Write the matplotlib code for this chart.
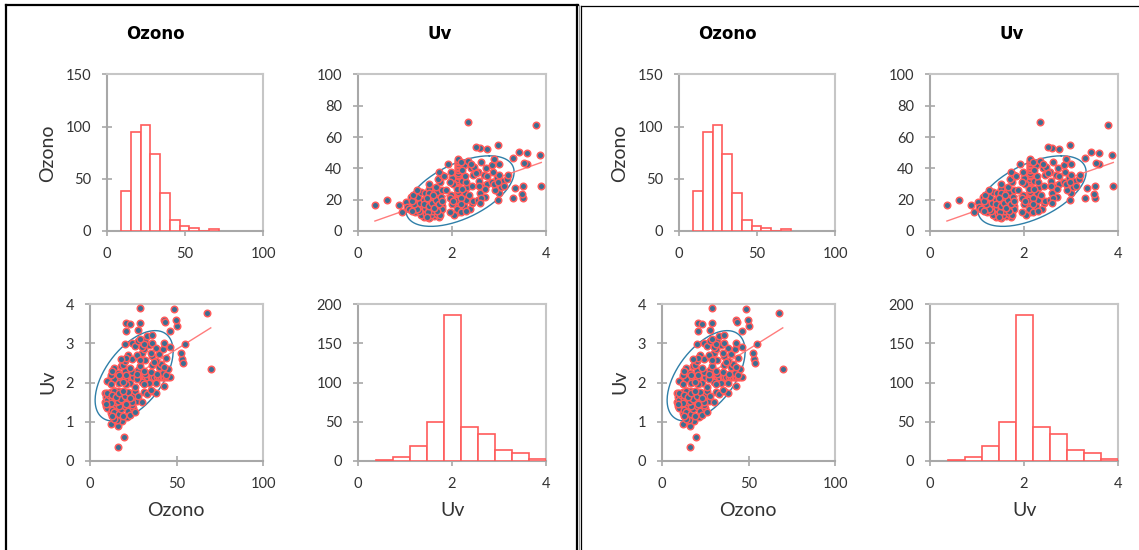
import numpy as np
import matplotlib.pyplot as plt
from matplotlib.lines import Line2D

W, H = 1139, 550

# scatter data (Ozono, Uv), grouped roughly by Uv level
ozono = [
    16.4, 19.6, 16.4, 12.4, 18.5, 21.5, 15.5, 14.0,
    9, 10, 12, 13, 14, 16, 17, 18, 19, 20, 22, 23, 11, 15, 25, 24, 13, 17, 26,
    8.5, 8.8, 9.5, 10, 11, 12, 13, 14, 15, 16, 17, 18, 19, 20, 21, 22, 23, 24, 25, 26,
    27, 28, 30, 31, 33, 12, 14, 16, 18, 20, 22, 24, 10, 13, 9.2, 15, 17, 19, 21, 23,
    36, 38,
    12, 13, 15, 16, 17, 19, 20, 21, 23, 24, 25, 27, 28, 29, 31, 32, 33, 35, 36, 37,
    39, 40, 41, 42, 43, 44, 45, 46,
    10, 14, 17, 20, 23, 26, 30, 34, 38, 43, 21, 27, 31, 35, 19, 12,
    12, 14, 16, 18, 20, 24, 28, 32, 36, 40, 42, 44, 45, 21, 23, 27, 29, 31, 35, 39,
    41, 43, 69.8, 19, 13, 17,
    20, 22, 24, 28, 30, 32, 36, 38, 40, 42, 21, 27, 29, 31, 35, 37, 52.9, 53.7, 52.5, 18,
    44,
    20, 24, 26, 28, 30, 32, 34, 36, 38, 43, 46, 55, 31, 33, 29,
    20.9, 23.4, 28.9, 43.0, 43.2, 50.4, 20.9, 27.7, 46.5, 36.0,
    28.7, 48.6, 67.6, 49.8,
]
uv = [
    0.36, 0.62, 0.88, 0.93, 1.02, 1.12, 1.05, 1.08,
    1.40, 1.35, 1.22, 1.30, 1.25, 1.38, 1.20, 1.32, 1.15, 1.40, 1.28, 1.18, 1.44, 1.42, 1.35, 1.42, 1.15, 1.40, 1.25,
    1.50, 1.72, 1.62, 1.55, 1.68, 1.75, 1.58, 1.65, 1.50, 1.78, 1.60, 1.70, 1.55, 1.75, 1.62, 1.48, 1.72, 1.58, 1.68, 1.78,
    1.52, 1.65, 1.50, 1.75, 1.70, 1.48, 1.78, 1.52, 1.58, 1.66, 1.76, 1.50, 1.74, 1.68, 1.46, 1.62, 1.72, 1.78, 1.46, 1.60,
    1.78, 1.72,
    2.13, 2.13, 2.13, 2.13, 2.13, 2.13, 2.13, 2.13, 2.13, 2.13, 2.13, 2.13, 2.13, 2.13, 2.13, 2.13, 2.13, 2.13, 2.13, 2.13,
    2.13, 2.13, 2.13, 2.13, 2.13, 2.13, 2.13, 2.13,
    2.05, 2.10, 2.00, 2.08, 1.98, 1.88, 2.02, 2.00, 1.98, 1.92, 1.95, 2.10, 1.96, 1.82, 2.02, 1.95,
    2.20, 2.38, 2.25, 2.42, 2.30, 2.28, 2.32, 2.22, 2.45, 2.40, 2.25, 2.20, 2.35, 2.20, 2.36, 2.22, 2.42, 2.30, 2.28, 2.22,
    2.46, 2.40, 2.35, 2.45, 2.30, 2.20,
    2.55, 2.70, 2.60, 2.65, 2.75, 2.58, 2.68, 2.55, 2.72, 2.85, 2.62, 2.70, 2.58, 2.85, 2.75, 2.52, 2.60, 2.50, 2.75, 2.60,
    2.62,
    2.98, 3.00, 2.92, 3.05, 2.90, 3.08, 2.95, 3.00, 2.88, 3.00, 2.90, 2.97, 2.98, 3.18, 3.10,
    3.52, 3.49, 3.52, 3.60, 3.54, 3.43, 3.30, 3.35, 3.30, 3.20,
    3.90, 3.87, 3.78, 3.60,
]

# histogram counts
oz_counts = [38, 95, 102, 74, 36, 11, 5, 3, 0, 2]
oz_bin_start, oz_bin_width = 9.1, 6.24
uv_counts = [1, 5, 19, 50, 186, 43, 34, 14, 10, 3]
uv_bin_start, uv_bin_width = 0.38, 0.362

# summary stats for regression line + ellipse
oz_mean, oz_sd = 25.5, 9.2
uv_mean, uv_sd = 2.17, 0.47
corr = 0.54
k_ell = 2.45

RED = '#FF5B5B'
BLUE = '#3B6E92'
ELL = '#2F7FA8'

plt.rcParams['font.family'] = ['Lato', 'DejaVu Sans']

ozono = np.array(ozono)
uv = np.array(uv)

fig = plt.figure(figsize=(W / 100, H / 100), dpi=100)
fig.patch.set_facecolor('white')


def fx(x):
    return x / W


def fy(y):
    return 1 - y / H


def axes_px(x0, y0, x1, y1):
    return fig.add_axes([fx(x0), fy(y1), (x1 - x0) / W, (y1 - y0) / H])


def style(ax, xlim, xticks, ylim, yticks):
    ax.set_xlim(xlim)
    ax.set_ylim(ylim)
    ax.set_xticks(xticks)
    ax.set_yticks(yticks)
    for s in ['left', 'bottom']:
        ax.spines[s].set_color('#A8A8A8')
        ax.spines[s].set_linewidth(1.5)
    for s in ['top', 'right']:
        ax.spines[s].set_color('#C6C6C6')
        ax.spines[s].set_linewidth(1.5)
    ax.tick_params(direction='inout', length=7, width=1.2, color='#A8A8A8',
                   labelsize=10.5, labelcolor='#333333', pad=8)


# ellipse points from the covariance
t = np.linspace(0, 2 * np.pi, 200)
cov = np.array([[oz_sd ** 2, corr * oz_sd * uv_sd],
                [corr * oz_sd * uv_sd, uv_sd ** 2]])
L = np.linalg.cholesky(cov)
ell = np.array([oz_mean, uv_mean])[:, None] + k_ell * L @ np.vstack([np.cos(t), np.sin(t)])

b_uv_on_oz = corr * uv_sd / oz_sd
b_oz_on_uv = corr * oz_sd / uv_sd


def panel(dx):
    # histogram of Ozono
    ax = axes_px(107 + dx, 74.5, 263 + dx, 231)
    edges = oz_bin_start + oz_bin_width * np.arange(len(oz_counts))
    ax.bar(edges, oz_counts, width=oz_bin_width, align='edge', color='white',
           edgecolor=RED, linewidth=1.2, zorder=3)
    style(ax, (0, 100), [0, 50, 100], (0, 150), [0, 50, 100, 150])

    # Uv (x) vs Ozono (y)
    ax = axes_px(358 + dx, 74.5, 546 + dx, 231)
    ax.plot(ell[1], ell[0], color=ELL, lw=1.0, zorder=2)
    xs = np.array([uv.min(), uv.max()])
    ax.plot(xs, oz_mean + b_oz_on_uv * (xs - uv_mean), color='#FF7C7C', lw=1.0, zorder=2)
    ax.scatter(uv, ozono, s=22, c=BLUE, edgecolors=RED, linewidths=1.1, zorder=3)
    style(ax, (0, 4), [0, 2, 4], (0, 100), [0, 20, 40, 60, 80, 100])

    # Ozono (x) vs Uv (y)
    ax = axes_px(90 + dx, 304, 263 + dx, 461)
    ax.plot(ell[0], ell[1], color=ELL, lw=1.0, zorder=2)
    xs = np.array([ozono.min(), ozono.max()])
    ax.plot(xs, uv_mean + b_uv_on_oz * (xs - oz_mean), color='#FF7C7C', lw=1.0, zorder=2)
    ax.scatter(ozono, uv, s=22, c=BLUE, edgecolors=RED, linewidths=1.1, zorder=3)
    style(ax, (0, 100), [0, 50, 100], (0, 4), [0, 1, 2, 3, 4])

    # histogram of Uv
    ax = axes_px(358 + dx, 304, 546 + dx, 461)
    edges = uv_bin_start + uv_bin_width * np.arange(len(uv_counts))
    ax.bar(edges, uv_counts, width=uv_bin_width, align='edge', color='white',
           edgecolor=RED, linewidth=1.2, zorder=3)
    style(ax, (0, 4), [0, 2, 4], (0, 200), [0, 50, 100, 150, 200])

    # titles and labels
    fig.text(fx(155 + dx), fy(34), 'Ozono', ha='center', va='center',
             fontsize=12, fontweight='bold', family='DejaVu Sans')
    fig.text(fx(440 + dx), fy(34), 'Uv', ha='center', va='center',
             fontsize=12, fontweight='bold', family='DejaVu Sans')
    fig.text(fx(48 + dx), fy(153), 'Ozono', ha='center', va='center',
             rotation=90, fontsize=14, color='#333333')
    fig.text(fx(48 + dx), fy(382), 'Uv', ha='center', va='center',
             rotation=90, fontsize=14, color='#333333')
    fig.text(fx(176 + dx), fy(511), 'Ozono', ha='center', va='center',
             fontsize=14, color='#333333')
    fig.text(fx(453 + dx), fy(511), 'Uv', ha='center', va='center',
             fontsize=14, color='#333333')


panel(0)
panel(572)

# frames around the two copies
for (x0, y0, x1, y1) in [(6, 5, 578, 5), (6, 5, 6, 550), (577, 5, 577, 550)]:
    fig.add_artist(Line2D([fx(x0), fx(x1)], [fy(y0), fy(y1)], color='black', lw=1.6))
fig.add_artist(Line2D([fx(579), fx(579)], [fy(5), fy(550)], color='#A0A0A0', lw=0.8))
for (x0, y0, x1, y1) in [(580.5, 5.5, 1139, 5.5), (580.5, 5.5, 580.5, 550)]:
    fig.add_artist(Line2D([fx(x0), fx(x1)], [fy(y0), fy(y1)], color='black', lw=0.9))

fig.savefig('out.png', dpi=100)
